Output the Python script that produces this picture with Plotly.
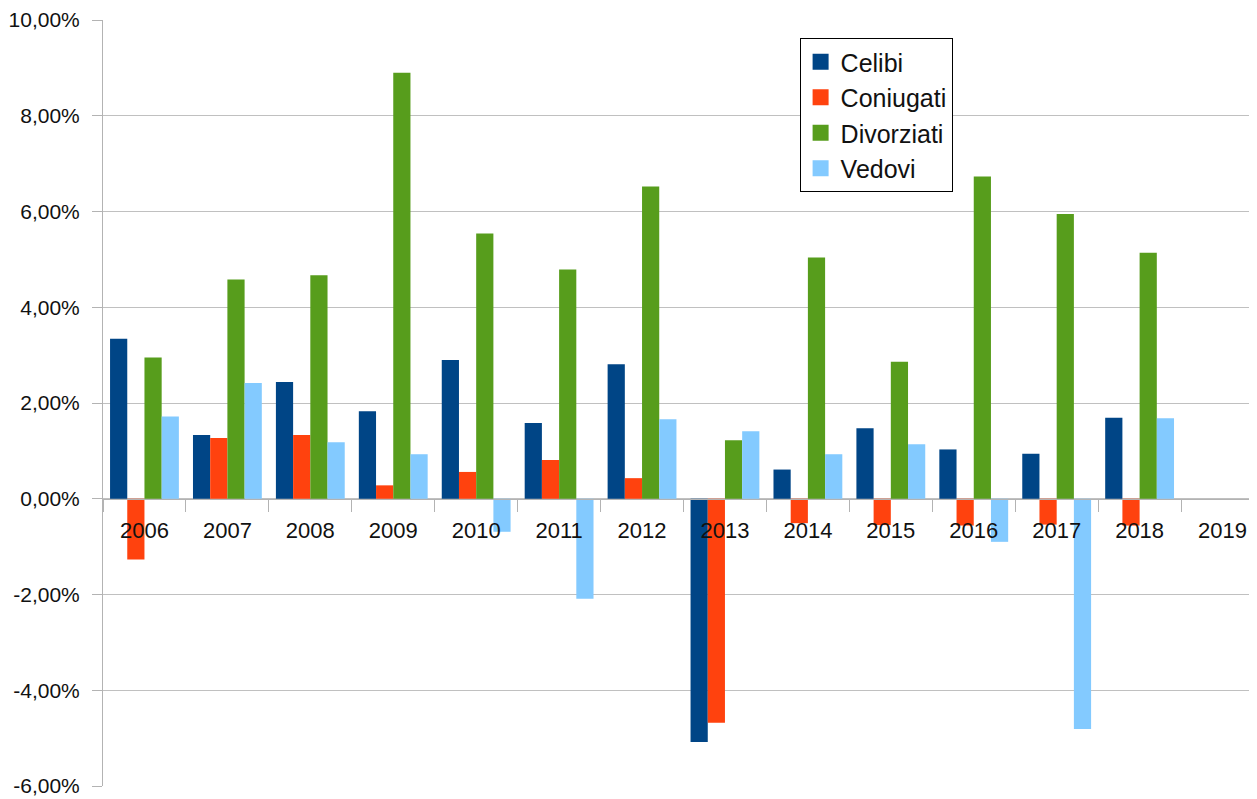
import plotly.graph_objects as go

# Anni e variazioni percentuali per stato civile
anni = ['2006', '2007', '2008', '2009', '2010', '2011', '2012',
        '2013', '2014', '2015', '2016', '2017', '2018', '2019']

celibi = [3.34, 1.33, 2.44, 1.83, 2.90, 1.58, 2.81, -5.08, 0.61, 1.47, 1.03, 0.94, 1.69, None]
coniugati = [-1.27, 1.27, 1.33, 0.28, 0.56, 0.81, 0.43, -4.68, -0.51, -0.55, -0.56, -0.54, -0.56, None]
divorziati = [2.95, 4.58, 4.67, 8.90, 5.54, 4.79, 6.52, 1.22, 5.04, 2.86, 6.73, 5.95, 5.14, None]
vedovi = [1.72, 2.42, 1.18, 0.93, -0.69, -2.09, 1.66, 1.41, 0.93, 1.14, -0.90, -4.81, 1.68, None]

# Etichette dell'asse y (con trattino normale come nell'originale)
y_tick_valori = [-6, -4, -2, 0, 2, 4, 6, 8, 10]
y_tick_testi = ['-6,00%', '-4,00%', '-2,00%', '0,00%', '2,00%',
                '4,00%', '6,00%', '8,00%', '10,00%']

serie = [
    ('Celibi', celibi, '#004586'),
    ('Coniugati', coniugati, '#ff420e'),
    ('Divorziati', divorziati, '#579d1c'),
    ('Vedovi', vedovi, '#83caff'),
]

fig = go.Figure()

for nome, valori, colore in serie:
    fig.add_trace(go.Bar(
        x=anni,
        y=valori,
        name=nome,
        legendgroup=nome,
        showlegend=False,
        marker=dict(color=colore, line=dict(width=0)),
    ))

# voci di legenda con quadrati più grandi
for nome, valori, colore in serie:
    fig.add_trace(go.Scatter(
        x=[None], y=[None],
        mode='markers',
        name=nome,
        legendgroup=nome,
        marker=dict(color=colore, symbol='square', size=17),
    ))

fig.update_layout(
    width=1256,
    height=791,
    margin=dict(l=95, r=0, t=12, b=13),
    paper_bgcolor='white',
    plot_bgcolor='white',
    barmode='group',
    bargap=0.17,
    bargroupgap=0,
    font=dict(family='Liberation Sans, Arial, sans-serif', size=21, color='#111111'),
    legend=dict(
        x=0.6, y=0.9765, xanchor='left', yanchor='top',
        bgcolor='white', bordercolor='#000000', borderwidth=1,
        font=dict(size=25), itemwidth=30, tracegroupgap=0,
    ),
    xaxis=dict(
        type='category',
        anchor='free',
        position=0.375,
        showline=True,
        linecolor='#b3b3b3',
        linewidth=1,
        ticks='outside',
        tickson='boundaries',
        ticklen=12,
        tickcolor='#b3b3b3',
        ticklabelstandoff=12,
        showgrid=False,
        tickfont=dict(size=22),
    ),
    yaxis=dict(
        range=[-6, 10],
        tickvals=y_tick_valori,
        ticktext=y_tick_testi,
        showline=True,
        linecolor='#b3b3b3',
        ticks='outside',
        ticklen=10,
        tickcolor='#b3b3b3',
        ticklabelstandoff=8,
        showgrid=True,
        gridcolor='#c0c0c0',
        zeroline=False,
        tickfont=dict(size=21),
    ),
)

fig.write_html("out.html")
